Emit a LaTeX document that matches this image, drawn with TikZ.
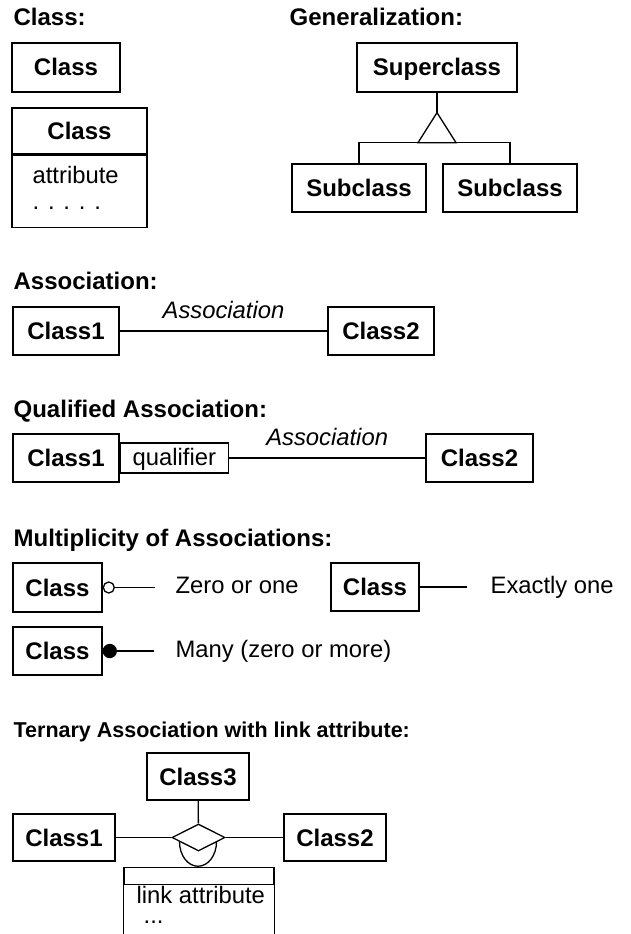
\documentclass[tikz,border=0pt]{standalone}
\usepackage{fontspec}
\setmainfont{Liberation Sans}
\usetikzlibrary{calc,positioning,shapes.geometric}

\begin{document}
\begin{tikzpicture}[x=1pt,y=-1pt,
line width=1.3pt,
every node/.style={inner sep=0pt},
title/.style={font=\fontsize{24}{28}\selectfont\bfseries, anchor=base west},
cls/.style={draw, font=\fontsize{24}{28}\selectfont\bfseries, minimum height=48, text height=17, text depth=0pt},
txt/.style={font=\fontsize{23.8}{28}\selectfont, anchor=base west},
assoc/.style={font=\fontsize{23.8}{28}\selectfont\itshape, anchor=base, yshift=12.5pt},]
\useasboundingbox (0,0) rectangle (631,934);

\node[title] (tclass) at (13,26) {Class:};
\node[cls, minimum width=108, minimum height=49] (c1) at (66,67.5) {Class};
\node[cls, minimum width=135, minimum height=46] (c2) at (79.5,131) {Class};
\node[draw, minimum width=135, minimum height=72, anchor=north] (c2attr) at (c2.south) {};
\node[txt, anchor=north west, align=left, font=\fontsize{23.8}{26}\selectfont] (c2a) at (32,166) {attribute\\. . . . .};

\node[title] (tgen) at (289,26) {Generalization:};
\node[cls, minimum width=160, minimum height=49] (sup) at (437,67.5) {Superclass};
\node[cls, minimum width=134] (sub1) at (359,188) {Subclass};
\node[cls, minimum width=134] (sub2) at (510,188) {Subclass};
\coordinate (gapex) at ($(sup.south)+(0,20)$);
\draw (sup) -- (gapex);
\draw (gapex) -- ++(-19,30) coordinate (gleft) -- ++(38,0) coordinate (gright) -- cycle;
\draw (sub1.north) |- (gleft);
\draw (sub2.north) |- (gright);

\node[title] (tassoc) at (13,289) {Association:};
\node[cls, minimum width=106] (a1) at (66,331) {Class1};
\node[cls, minimum width=106] (a2) at (381,331) {Class2};
\draw (a1) -- node[assoc] (alabel) {Association} (a2);

\node[title] (tqual) at (13,417) {Qualified Association:};
\node[cls, minimum width=106] (q1) at (66,458) {Class1};
\node[draw, font=\fontsize{23.8}{28}\selectfont, minimum width=108, minimum height=30, text height=14, text depth=0pt, anchor=west] (qual) at (q1.east) {qualifier};
\node[cls, minimum width=107] (q2) at (479.5,458) {Class2};
\draw (qual) -- node[assoc] (qlabel) {Association} (q2);

\node[title] (tmult) at (13,546) {Multiplicity of Associations:};
\node[cls, minimum width=89, minimum height=49] (m1) at (57.5,587.5) {Class};
\node[draw, circle, fill=white, minimum size=11, anchor=west] (m1end) at (m1.east) {};
\coordinate (m1tip) at ($(m1end.east)+(40,0)$);
\draw (m1end) -- (m1tip);
\node[txt] (m1txt) at (175,593) {Zero or one};
\node[cls, minimum width=88] (m2) at (375,587) {Class};
\coordinate (m2tip) at ($(m2.east)+(47,0)$);
\draw (m2) -- (m2tip);
\node[txt] (m2txt) at (490,593) {Exactly one};
\node[cls, minimum width=89] (m3) at (57.5,651) {Class};
\node[draw, circle, fill=black, minimum size=13, anchor=west] (m3end) at (m3.east) {};
\coordinate (m3tip) at ($(m3end.east)+(37,0)$);
\draw (m3end) -- (m3tip);
\node[txt] (m3txt) at (175,657) {Many (zero or more)};

\node[title, font=\fontsize{21.5}{25}\selectfont\bfseries] (tern) at (13,737) {Ternary Association with link attribute:};
\node[cls, minimum width=102, minimum height=47] (t3) at (198,776.5) {Class3};
\node[draw, diamond, fill=white, minimum width=53, minimum height=27] (dia) at (198.5,837.5) {};
\node[cls, minimum width=102, minimum height=47] (t1) at (64,837.5) {Class1};
\node[cls, minimum width=102, minimum height=47] (t2) at (335,837.5) {Class2};
\draw (t3) -- (dia);
\draw (t1) -- (dia);
\draw (dia) -- (t2);
\coordinate (arcl) at ($(dia.west)!0.3!(dia.south)$);
\draw (arcl) arc[start angle=180, end angle=0, x radius=18.5, y radius=24.5];
\node[draw, minimum width=150, minimum height=17, anchor=north] (link) at (199,867) {};
\draw (link.south west) -- ++(0,60);
\draw (link.south east) -- ++(0,60);
\node[txt, anchor=north west, align=left, font=\fontsize{23.8}{20}\selectfont] (ltxt) at (136,886) {link attribute\\\hspace*{7pt}...};
\end{tikzpicture}
\end{document}
